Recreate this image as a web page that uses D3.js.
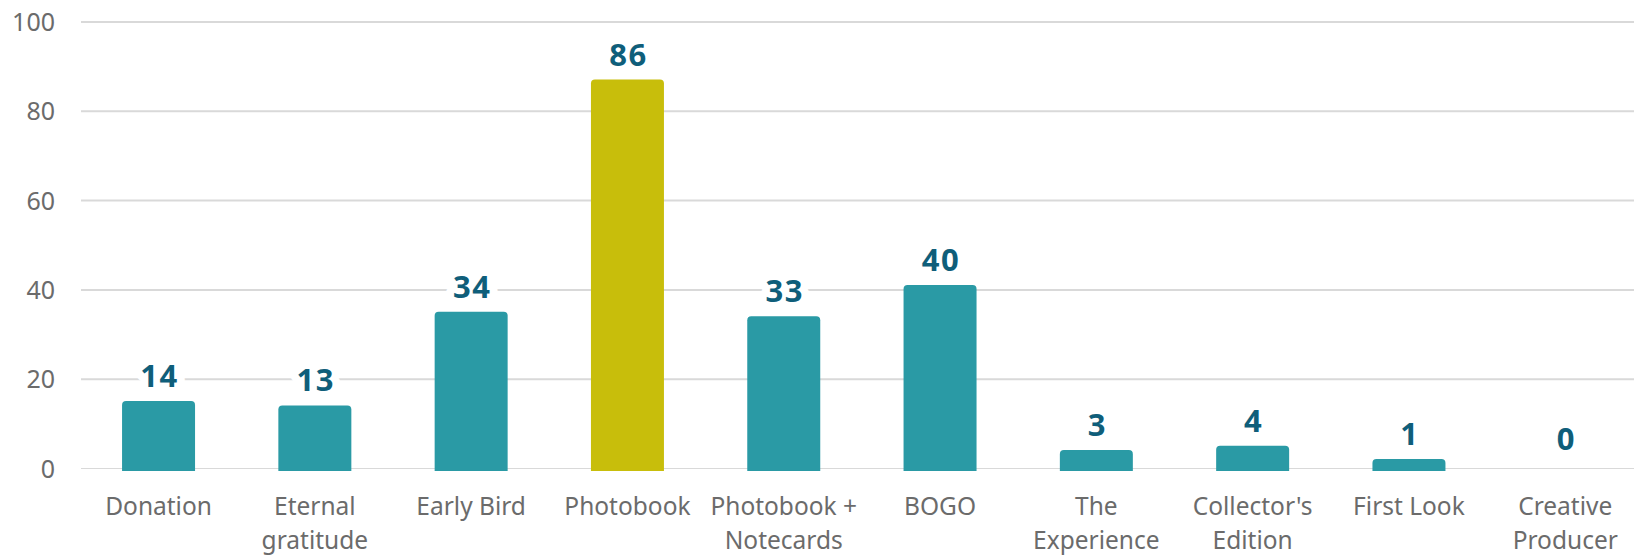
<!DOCTYPE html>
<html>
<head>
<meta charset="utf-8">
<script src="https://cdn.jsdelivr.net/npm/d3@7"></script>
<style>
  body { margin: 0; background: #fff; }
  text { font-family: "Noto Sans", sans-serif; }
</style>
</head>
<body>
<div id="chart"></div>
<script>

// chart data
var categories = ['Donation', 'Eternal gratitude', 'Early Bird', 'Photobook', 'Photobook + Notecards',
                  'BOGO', 'The Experience', "Collector's Edition", 'First Look', 'Creative Producer'];
var labelLines = [['Donation'], ['Eternal', 'gratitude'], ['Early Bird'], ['Photobook'], ['Photobook +', 'Notecards'],
                  ['BOGO'], ['The', 'Experience'], ["Collector's", 'Edition'], ['First Look'], ['Creative', 'Producer']];
var values = [14, 13, 34, 86, 33, 40, 3, 4, 1, 0];
var highlight = 'Photobook';
var yTicks = [0, 20, 40, 60, 80, 100];

var width = 1634,
    height = 556,
    margin = {top: 22, right: 0, bottom: 87, left: 81};

var svg = d3.select('#chart')
  .append('svg')
  .attr('width', width)
  .attr('height', height);

// bands run a little past the right edge, like the original
var x = d3.scaleBand()
  .domain(categories)
  .range([80.4, 1643.4])
  .paddingInner(0.533)
  .paddingOuter(0.2665);

var y = d3.scaleLinear()
  .domain([0, 100])
  .range([height - margin.bottom - 0.5, margin.top]);

// gridlines + y labels
var grid = svg.append('g').attr('class', 'grid');

grid.selectAll('line')
  .data(yTicks)
  .enter()
  .append('line')
  .attr('x1', margin.left)
  .attr('x2', width)
  .attr('y1', function(d) { return y(d); })
  .attr('y2', function(d) { return y(d); })
  .style('stroke', '#d9d9d9')
  .style('stroke-width', function(d) { return d == 0 ? 1.2 : 2; });

grid.selectAll('text')
  .data(yTicks)
  .enter()
  .append('text')
  .attr('x', 55)
  .attr('y', function(d) { return y(d); })
  .attr('dy', '0.36em')
  .attr('text-anchor', 'end')
  .style('font-size', '25px')
  .style('fill', '#6b6b6b')
  .text(function(d) { return d; });

// bars (rounded cap sits a little above the value, base a bit below zero)
var bars = svg.append('g').attr('class', 'bars');

values.forEach(function(v, i) {
  if (v <= 0) return;
  var cat = categories[i];
  var x0 = x(cat), w = x.bandwidth();
  var top = y(v) - 5, bottom = y(0) + 2.5, r = 4;
  var p = d3.path();
  p.moveTo(x0, bottom);
  p.lineTo(x0, top + r);
  p.quadraticCurveTo(x0, top, x0 + r, top);
  p.lineTo(x0 + w - r, top);
  p.quadraticCurveTo(x0 + w, top, x0 + w, top + r);
  p.lineTo(x0 + w, bottom);
  p.closePath();
  bars.append('path')
    .attr('d', p.toString())
    .style('fill', cat == highlight ? '#c8be0b' : '#2a9aa5');
});

// value labels
svg.append('g')
  .selectAll('text')
  .data(values)
  .enter()
  .append('text')
  .attr('x', function(d, i) { return x(categories[i]) + x.bandwidth() / 2 + 1; })
  .attr('y', function(d) { return y(d) - 19; })
  .attr('text-anchor', 'middle')
  .style('font-size', '31px')
  .style('font-weight', 'bold')
  .style('letter-spacing', '1.5px')
  .style('fill', '#0f5e7a')
  .style('stroke', '#fff')
  .style('stroke-width', 16)
  .style('stroke-linejoin', 'round')
  .style('paint-order', 'stroke')
  .text(function(d) { return d; });

// x axis labels
var xl = svg.append('g')
  .selectAll('text')
  .data(labelLines)
  .enter()
  .append('text')
  .attr('x', function(d, i) { return x(categories[i]) + x.bandwidth() / 2; })
  .attr('y', 515)
  .attr('text-anchor', 'middle')
  .style('font-size', '24.5px')
  .style('fill', '#6b6b6b');

xl.selectAll('tspan')
  .data(function(d) { return d; })
  .enter()
  .append('tspan')
  .attr('x', function() { return d3.select(this.parentNode).attr('x'); })
  .attr('dy', function(d, i) { return i == 0 ? 0 : 34; })
  .text(function(d) { return d; });

</script>
</body>
</html>
